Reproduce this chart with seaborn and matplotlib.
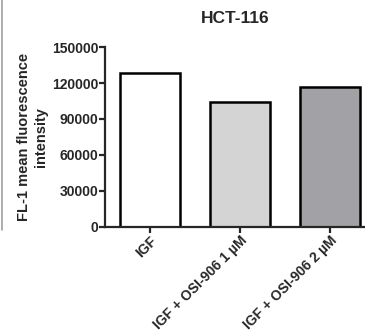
import matplotlib
matplotlib.use("Agg")
import matplotlib.pyplot as plt
import seaborn as sns
import pandas as pd
from matplotlib.lines import Line2D

# data
groups = ["IGF", "IGF + OSI-906 1 \u00b5M", "IGF + OSI-906 2 \u00b5M"]
mfi = [128500, 104500, 116500]
bar_colors = ["#ffffff", "#d4d4d4", "#a2a2a6"]
yticks = [0, 30000, 60000, 90000, 120000, 150000]

df = pd.DataFrame({"group": groups, "mfi": mfi})

sns.set_style("ticks")
plt.rcParams["font.family"] = ["Liberation Sans", "DejaVu Sans"]

fig = plt.figure(figsize=(3.65, 3.34), dpi=100)
ax = fig.add_axes([0.288, 0.321, 0.712, 0.538])

sns.barplot(data=df, x="group", y="mfi", hue="group", palette=bar_colors,
            legend=False, width=0.67, edgecolor="black", linewidth=1.8,
            saturation=1, ax=ax)

ax.set_ylim(0, 150000)
ax.set_xlim(-0.5, 2.39)
ax.set_yticks(yticks)
ax.set_yticklabels([str(t) for t in yticks], fontsize=10, fontweight="bold")
ax.set_xticks(range(len(groups)))
ax.set_xticklabels(groups, rotation=45, ha="right", rotation_mode="anchor",
                   fontsize=10, fontweight="bold")
ax.set_xlabel("")
ax.set_ylabel("FL-1 mean fluorescence\nintensity", fontsize=10.5,
              fontweight="bold", labelpad=3)
ax.set_title("HCT-116", fontsize=12.5, fontweight="bold", pad=17)

for side in ["top", "right"]:
    ax.spines[side].set_visible(False)
for side in ["left", "bottom"]:
    ax.spines[side].set_linewidth(1.6)
ax.tick_params(axis="both", width=1.6, length=4, direction="out", pad=1)

# thin grey frame edge at the left border of the crop
fig.add_artist(Line2D([0.006, 0.006], [0.31, 1.0], color="#a0a0a0",
                      linewidth=1.2, transform=fig.transFigure))

fig.savefig("out.png", dpi=100)
